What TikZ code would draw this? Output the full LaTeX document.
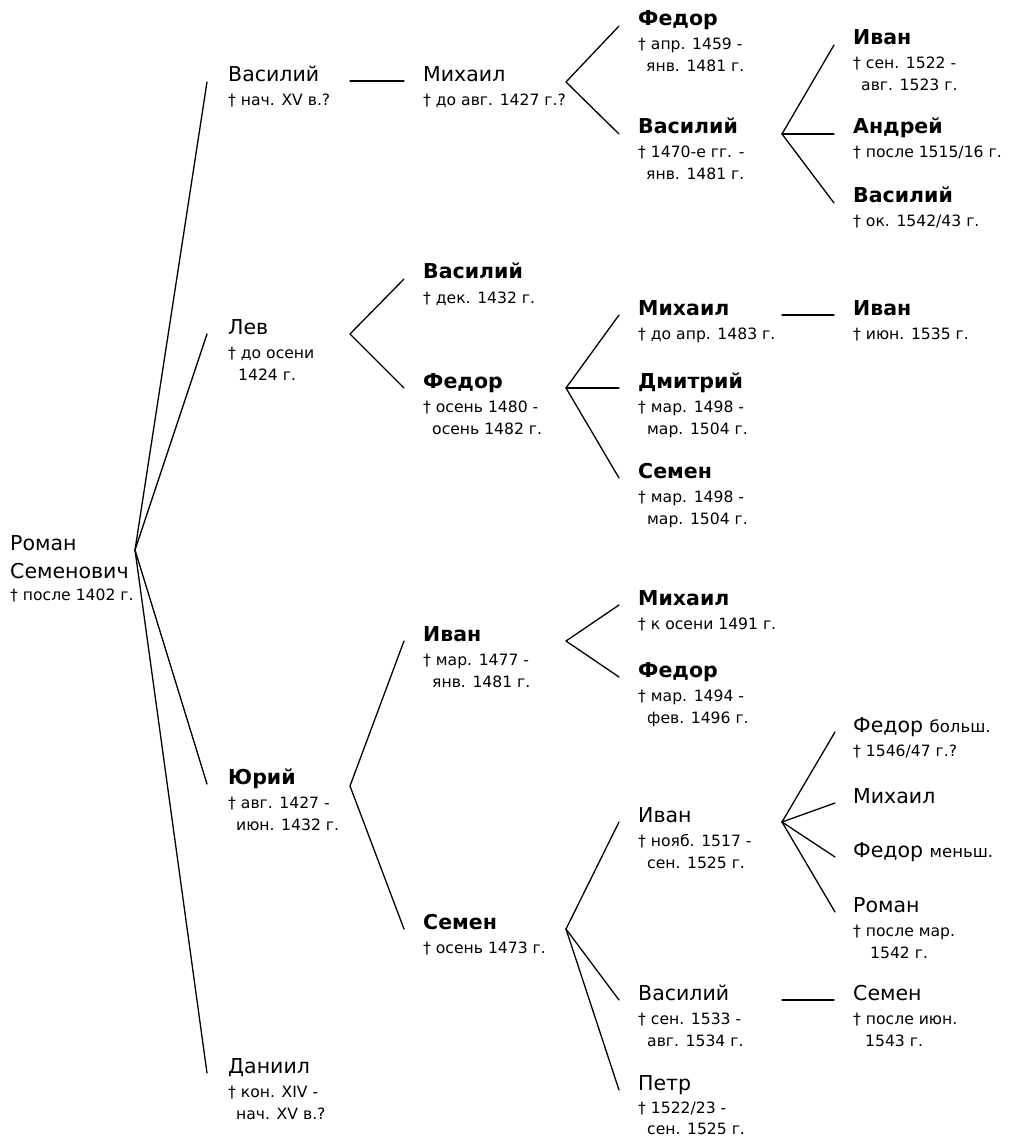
\documentclass[tikz,border=0pt]{standalone}
\usepackage{fontspec}
\setmainfont{DejaVu Sans}
\usetikzlibrary{calc}
\newcommand\nmsize{\fontsize{20.5}{24}\selectfont}
\newcommand\dtsize{\fontsize{15.6}{18}\selectfont}
\newcommand\qsize{\fontsize{16.5}{18}\selectfont}
\tikzset{
  nm/.style={anchor=base west, inner sep=0pt, font=\nmsize},
  nmb/.style={anchor=base west, inner sep=0pt, font=\nmsize\bfseries},
  dt/.style={anchor=base west, inner sep=0pt, font=\dtsize},
  link/.style={line width=1.3pt, line cap=round},
}
\begin{document}
\begin{tikzpicture}[x=1pt,y=-1pt]
\useasboundingbox (0,0) rectangle (1017,1139);

% ---------- root ----------
\node[nm] (r1) at (10,550) {Роман};
\node[nm] (r2) at (10,578) {Семенович};
\node[dt] (r3) at (10,600) {† после 1402 г.};
\coordinate (rf) at (135,550);

% ---------- column 1 ----------
\node[nm] (c1a) at (228,82) {Василий};
\node[dt] (c1a1) at (228,106) {† нач. XV в.?};
\coordinate (c1af) at (350,81);

\node[nm] (c1b) at (228,334) {Лев};
\node[dt] (c1b1) at (228,358) {† до осени};
\node[dt] (c1b2) at (238,380) {1424 г.};
\coordinate (c1bf) at (350,334);

\node[nmb] (c1c) at (228,784) {Юрий};
\node[dt] (c1c1) at (228,808) {† авг. 1427 -};
\node[dt] (c1c2) at (236,830) {июн. 1432 г.};
\coordinate (c1cf) at (350,786);

\node[nm] (c1d) at (228,1073) {Даниил};
\node[dt] (c1d1) at (228,1097) {† кон. XIV -};
\node[dt] (c1d2) at (236,1119) {нач. XV в.?};

% ---------- column 2 ----------
\node[nm] (c2a) at (423,82) {Михаил};
\node[dt] (c2a1) at (423,106) {† до авг. 1427 г.?};
\coordinate (c2af) at (566,82);

\node[nmb] (c2b) at (423,279) {Василий};
\node[dt] (c2b1) at (423,303) {† дек. 1432 г.};

\node[nmb] (c2c) at (423,388) {Федор};
\node[dt] (c2c1) at (423,412) {† осень 1480 -};
\node[dt] (c2c2) at (432,434) {осень 1482 г.};
\coordinate (c2cf) at (566,388);

\node[nmb] (c2d) at (423,641) {Иван};
\node[dt] (c2d1) at (423,665) {† мар. 1477 -};
\node[dt] (c2d2) at (432,687) {янв. 1481 г.};
\coordinate (c2df) at (566,641);

\node[nmb] (c2e) at (423,929) {Семен};
\node[dt] (c2e1) at (423,953) {† осень 1473 г.};
\coordinate (c2ef) at (566,929);

% ---------- column 3 ----------
\node[nmb] (c3a) at (638,26) {Федор};
\node[dt] (c3a1) at (638,50) {† апр. 1459 -};
\node[dt] (c3a2) at (646,72) {янв. 1481 г.};

\node[nmb] (c3b) at (638,134) {Василий};
\node[dt] (c3b1) at (638,158) {† 1470-е гг. -};
\node[dt] (c3b2) at (646,180) {янв. 1481 г.};
\coordinate (c3bf) at (782,134);

\node[nmb] (c3c) at (638,315) {Михаил};
\node[dt] (c3c1) at (638,339) {† до апр. 1483 г.};
\coordinate (c3cf) at (782,315);

\node[nmb] (c3d) at (638,388) {Дмитрий};
\node[dt] (c3d1) at (638,412) {† мар. 1498 -};
\node[dt] (c3d2) at (647,434) {мар. 1504 г.};

\node[nmb] (c3e) at (638,478) {Семен};
\node[dt] (c3e1) at (638,502) {† мар. 1498 -};
\node[dt] (c3e2) at (647,524) {мар. 1504 г.};

\node[nmb] (c3f) at (638,605) {Михаил};
\node[dt] (c3f1) at (638,629) {† к осени 1491 г.};

\node[nmb] (c3g) at (638,677) {Федор};
\node[dt] (c3g1) at (638,701) {† мар. 1494 -};
\node[dt] (c3g2) at (647,723) {фев. 1496 г.};

\node[nm] (c3h) at (638,822) {Иван};
\node[dt] (c3h1) at (638,846) {† нояб. 1517 -};
\node[dt] (c3h2) at (647,868) {сен. 1525 г.};
\coordinate (c3hf) at (782,822);

\node[nm] (c3i) at (638,1000) {Василий};
\node[dt] (c3i1) at (638,1024) {† сен. 1533 -};
\node[dt] (c3i2) at (647,1046) {авг. 1534 г.};
\coordinate (c3if) at (782,1000);

\node[nm] (c3j) at (638,1090) {Петр};
\node[dt] (c3j1) at (638,1113) {† 1522/23 -};
\node[dt] (c3j2) at (647,1134) {сен. 1525 г.};

% ---------- column 4 ----------
\node[nmb] (c4a) at (853,45) {Иван};
\node[dt] (c4a1) at (853,69) {† сен. 1522 -};
\node[dt] (c4a2) at (861,91) {авг. 1523 г.};

\node[nmb] (c4b) at (853,134) {Андрей};
\node[dt] (c4b1) at (853,158) {† после 1515/16 г.};

\node[nmb] (c4c) at (853,203) {Василий};
\node[dt] (c4c1) at (853,227) {† ок. 1542/43 г.};

\node[nmb] (c4d) at (853,315) {Иван};
\node[dt] (c4d1) at (853,339) {† июн. 1535 г.};

\node[nm] (c4e) at (853,732) {Федор {\qsize больш.}};
\node[dt] (c4e1) at (853,756) {† 1546/47 г.?};

\node[nm] (c4f) at (853,803) {Михаил};

\node[nm] (c4g) at (853,857) {Федор {\qsize меньш.}};

\node[nm] (c4h) at (853,912) {Роман};
\node[dt] (c4h1) at (853,936) {† после мар.};
\node[dt] (c4h2) at (870,958) {1542 г.};

\node[nm] (c4i) at (853,1000) {Семен};
\node[dt] (c4i1) at (853,1024) {† после июн.};
\node[dt] (c4i2) at (865,1046) {1543 г.};

% ---------- connectors ----------
\foreach \c in {c1a,c1b,c1c,c1d}
  \draw[link] (rf) -- ($(\c.base west)+(-21,0)$);
\draw[link] (c1af) -- ($(c2a.base west)+(-19,-1)$);
\foreach \c in {c2b,c2c}
  \draw[link] (c1bf) -- ($(\c.base west)+(-19,0)$);
\foreach \c in {c2d,c2e}
  \draw[link] (c1cf) -- ($(\c.base west)+(-19,0)$);
\foreach \c in {c3a,c3b}
  \draw[link] (c2af) -- ($(\c.base west)+(-19,0)$);
\foreach \c in {c3c,c3d,c3e}
  \draw[link] (c2cf) -- ($(\c.base west)+(-19,0)$);
\foreach \c in {c3f,c3g}
  \draw[link] (c2df) -- ($(\c.base west)+(-19,0)$);
\foreach \c in {c3h,c3i,c3j}
  \draw[link] (c2ef) -- ($(\c.base west)+(-19,0)$);
\foreach \c in {c4a,c4b,c4c}
  \draw[link] (c3bf) -- ($(\c.base west)+(-19,0)$);
\draw[link] (c3cf) -- ($(c4d.base west)+(-19,0)$);
\foreach \c in {c4e,c4f,c4g,c4h}
  \draw[link] (c3hf) -- ($(\c.base west)+(-18,0)$);
\draw[link] (c3if) -- ($(c4i.base west)+(-19,0)$);
\end{tikzpicture}
\end{document}
